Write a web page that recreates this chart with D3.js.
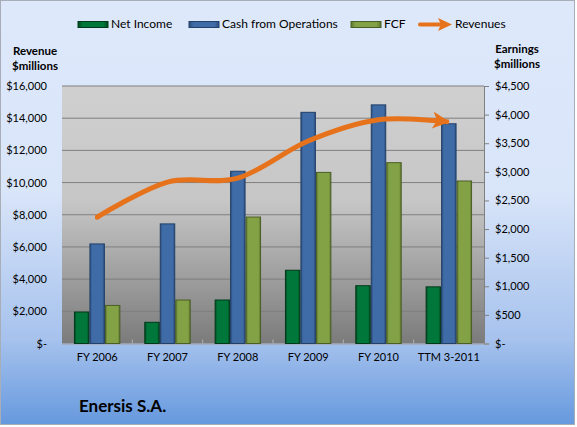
<!DOCTYPE html>
<html><head><meta charset="utf-8">
<script src="https://cdn.jsdelivr.net/npm/d3@7"></script>
<style>body{margin:0;background:#fff;} text{font-family:Lato,"Open Sans",sans-serif;fill:#000;}</style>
</head><body><svg id="c" width="577" height="427"></svg>
<script>
const categories = ["FY 2006","FY 2007","FY 2008","FY 2009","FY 2010","TTM 3-2011"];
const netIncome = [550, 370, 760, 1280, 1010, 990];
const cashFromOps = [1740, 2090, 3010, 4040, 4170, 3840];
const fcf = [665, 760, 2210, 2990, 3160, 2840];
const revenues = [7850, 10030, 10280, 12580, 13900, 13770];
const leftTicks = [0,2000,4000,6000,8000,10000,12000,14000,16000];
const rightTicks = [0,500,1000,1500,2000,2500,3000,3500,4000,4500];
const seriesNames = ["Net Income","Cash from Operations","FCF"];
const lineName = "Revenues";
const title = "Enersis S.A.";

const svg = d3.select("#c");
const W = 577, H = 427;
const L = 62, R = 484, T = 86, B = 343.5;
const defs = svg.append("defs");

function vgrad(id, stops){
  const g = defs.append("linearGradient").attr("id", id).attr("x1",0).attr("y1",0).attr("x2",0).attr("y2",1);
  stops.forEach(s => g.append("stop").attr("offset", s[0]).attr("stop-color", s[1]));
}
function hgrad(id, stops){
  const g = defs.append("linearGradient").attr("id", id).attr("x1",0).attr("y1",0).attr("x2",1).attr("y2",0);
  stops.forEach(s => g.append("stop").attr("offset", s[0]).attr("stop-color", s[1]));
}
vgrad("bg", [[0,"#DDE8FB"],[0.45,"#D9E5F9"],[0.8,"#A6C2ED"],[1,"#6699DE"]]);
vgrad("plot", [[0,"#D0D0D0"],[0.45,"#C6C6C6"],[1,"#7B7B7B"]]);
const colors = [
  {id:"g0", edge:"#00461F", mid:"#00773A", stroke:"#003A1A"},
  {id:"g1", edge:"#2B4D7C", mid:"#3F6CA6", stroke:"#22406A"},
  {id:"g2", edge:"#5E7730", mid:"#83A245", stroke:"#4B5F25"}
];
colors.forEach(c => hgrad(c.id, [[0,c.edge],[0.15,c.mid],[0.85,c.mid],[1,c.edge]]));

svg.append("rect").attr("x",0.5).attr("y",0.5).attr("width",W-3).attr("height",H-3)
  .attr("fill","url(#bg)").attr("stroke","#A8AEB8");

svg.append("rect").attr("x",L).attr("y",T).attr("width",R-L).attr("height",B-T).attr("fill","url(#plot)");

const x = d3.scaleBand().domain(categories).range([L,R]).paddingInner(0.34).paddingOuter(0.17);
const x1 = d3.scaleBand().domain(seriesNames).range([0, x.bandwidth()]);
const yL = d3.scaleLinear().domain([0,16000]).range([B,T]);
const yR = d3.scaleLinear().domain([0,4500]).range([B,T]);

// gridlines
svg.append("g").selectAll("line").data(leftTicks.slice(1)).join("line")
  .attr("x1",L).attr("x2",R).attr("y1",d=>yL(d)).attr("y2",d=>yL(d))
  .attr("stroke","#7F7F7F").attr("stroke-width",1);

// left axis
const axL = svg.append("g").attr("transform",`translate(${L},0)`)
  .call(d3.axisLeft(yL).tickValues(leftTicks).tickSize(0).tickPadding(15)
    .tickFormat(d => d===0 ? "$-" : "$" + d3.format(",")(d)));
axL.select(".domain").remove();
axL.selectAll("text").style("font-family","Lato").style("font-size","11px").attr("fill","#000");

// right axis
const axR = svg.append("g").attr("transform",`translate(${R},0)`)
  .call(d3.axisRight(yR).tickValues(rightTicks).tickSize(5).tickPadding(6)
    .tickFormat(d => d===0 ? "$-" : "$" + d3.format(",")(d)));
axR.select(".domain").attr("stroke","#808080");
axR.selectAll(".tick line").attr("stroke","#808080");
axR.selectAll("text").style("font-family","Lato").style("font-size","11px").attr("fill","#000");

// bottom axis
const axB = svg.append("g").attr("transform",`translate(0,${B})`)
  .call(d3.axisBottom(x).tickSize(0).tickPadding(10));
axB.select(".domain").attr("stroke","#A0A0A0").attr("d",`M${L},0.5H${R+5}`);
axB.selectAll("text").style("font-family","Lato").style("font-size","11px").attr("fill","#000");
svg.append("g").selectAll("line").data(categories.slice(1)).join("line")
  .attr("x1",d=>x(d)-x.step()*0.17).attr("x2",d=>x(d)-x.step()*0.17)
  .attr("y1",B-4).attr("y2",B).attr("stroke","#B0B0B0");

// bars
const seriesData = [netIncome, cashFromOps, fcf];
seriesData.forEach((vals, si) => {
  svg.append("g").selectAll("rect").data(vals).join("rect")
    .attr("x",(d,i)=>x(categories[i]) + x1(seriesNames[si]) + 0.5)
    .attr("y",d=>yR(d))
    .attr("width",x1.bandwidth()-1)
    .attr("height",d=>B-yR(d))
    .attr("fill",`url(#${colors[si].id})`)
    .attr("stroke",colors[si].stroke).attr("stroke-width",1);
});

// revenue line
const orange = "#E6731C";
defs.append("marker").attr("id","arr").attr("viewBox","0 0 10 10").attr("refX",9.5).attr("refY",5)
  .attr("markerWidth",3.8).attr("markerHeight",3.4).attr("orient","auto").attr("markerUnits","strokeWidth")
  .append("path").attr("d","M0,0 L10,5 L0,10 L2.5,5 Z").attr("fill",orange);
defs.append("marker").attr("id","dot").attr("viewBox","0 0 10 10").attr("refX",5).attr("refY",5)
  .attr("markerWidth",1).attr("markerHeight",1).attr("markerUnits","strokeWidth")
  .append("circle").attr("cx",5).attr("cy",5).attr("r",5).attr("fill",orange);
const line = d3.line().x((d,i)=>x(categories[i])+x.bandwidth()/2).y(d=>yL(d)).curve(d3.curveCardinal.tension(0));
svg.append("path").attr("d",line(revenues)).attr("fill","none").attr("stroke",orange)
  .attr("stroke-width",5).attr("marker-end","url(#arr)").attr("marker-start","url(#dot)");

// legend
const leg = svg.append("g");
const legItems = [{x:78, t:seriesNames[0]},{x:189, t:seriesNames[1]},{x:351, t:seriesNames[2]}];
legItems.forEach((it,i)=>{
  leg.append("rect").attr("x",it.x).attr("y",21.5).attr("width",30).attr("height",6)
    .attr("fill",`url(#${colors[i].id})`).attr("stroke",colors[i].stroke);
  leg.append("text").attr("x",it.x+33).attr("y",24.5).attr("dominant-baseline","middle")
    .style("font-size","12px").text(it.t);
});
leg.append("line").attr("x1",420).attr("x2",444).attr("y1",24.5).attr("y2",24.5)
  .attr("stroke",orange).attr("stroke-width",4).attr("stroke-linecap","round");
leg.append("path").attr("d","M438,18 L452,24.5 L438,31 L441,24.5 Z").attr("fill",orange);
leg.append("text").attr("x",455).attr("y",24.5).attr("dominant-baseline","middle")
  .style("font-size","12px").text(lineName);

// axis titles
const at = svg.append("g").style("font-size","11.5px").style("font-weight","bold");
at.append("text").attr("x",35).attr("y",52).attr("text-anchor","middle").attr("dominant-baseline","middle").text("Revenue");
at.append("text").attr("x",35).attr("y",67).attr("text-anchor","middle").attr("dominant-baseline","middle").text("$millions");
at.append("text").attr("x",517).attr("y",50).attr("text-anchor","middle").attr("dominant-baseline","middle").text("Earnings");
at.append("text").attr("x",517).attr("y",65).attr("text-anchor","middle").attr("dominant-baseline","middle").text("$millions");

svg.append("text").attr("x",79).attr("y",412).style("font-size","17px").style("font-weight","bold").text(title);
</script></body></html>
